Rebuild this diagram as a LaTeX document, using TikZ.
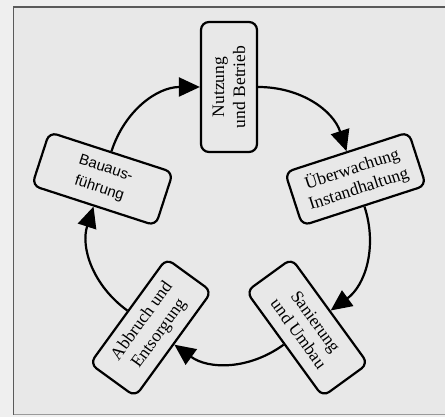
\documentclass[tikz,border=0pt]{standalone}
\usepackage{fontspec}
\setmainfont{Liberation Serif}
\newfontfamily\bauafont{Liberation Sans}
\usetikzlibrary{arrows.meta,calc}
\definecolor{bg}{HTML}{E8E8E8}
\definecolor{frameline}{HTML}{5A5A5A}
\tikzset{
  stage/.style={draw=black, line width=2.2pt, rounded corners=8pt, fill=bg,
    minimum width=130pt, minimum height=56pt, inner sep=4pt, align=center,
    font=\fontsize{17.5}{21}\selectfont},
  cyc/.style={line width=2.2pt, -{Triangle[length=21pt,width=19pt]},
    looseness=1.0}
}
\begin{document}
\begin{tikzpicture}[x=1pt,y=1pt]
\useasboundingbox (0,0) rectangle (445,417);
\fill[bg!70!white] (0,0) rectangle (445,417);
\fill[bg] (13.5,2) rectangle (445,410);
\draw[frameline, line width=1.3pt] (13.5,2) -- (13.5,410) -- (445,410);
\draw[black!40, line width=1pt] (13.5,2) -- (445,2);
\coordinate (c) at (229,197);
\node[stage, rotate=90] (nb) at ($(c)+(90:133)$) {Nutzung\\und Betrieb};
\node[stage, rotate=18] (ui) at ($(c)+(18:133)$) {Überwachung\\Instandhaltung};
\node[stage, rotate=-54] (su) at ($(c)+(-54:133)$) {Sanierung\\und Umbau};
\node[stage, rotate=54] (ae) at ($(c)+(-126:133)$) {Abbruch und\\Entsorgung};
\node[stage, rotate=-18, font=\bauafont\fontsize{15}{21}\selectfont] (bf) at ($(c)+(162:133)$) {Bauaus-\\führung};
\draw[cyc] (nb.south) to[out=0, in=108] (ui.north);
\draw[cyc] (ui.south) to[out=-72, in=36] (su.north);
\draw[cyc] (su.south) to[out=-144, in=-36] (ae.south);
\draw[cyc] (ae.north) to[out=144, in=-108] (bf.south);
\draw[cyc] (bf.north) to[out=72, in=180] (nb.north);
\end{tikzpicture}
\end{document}
